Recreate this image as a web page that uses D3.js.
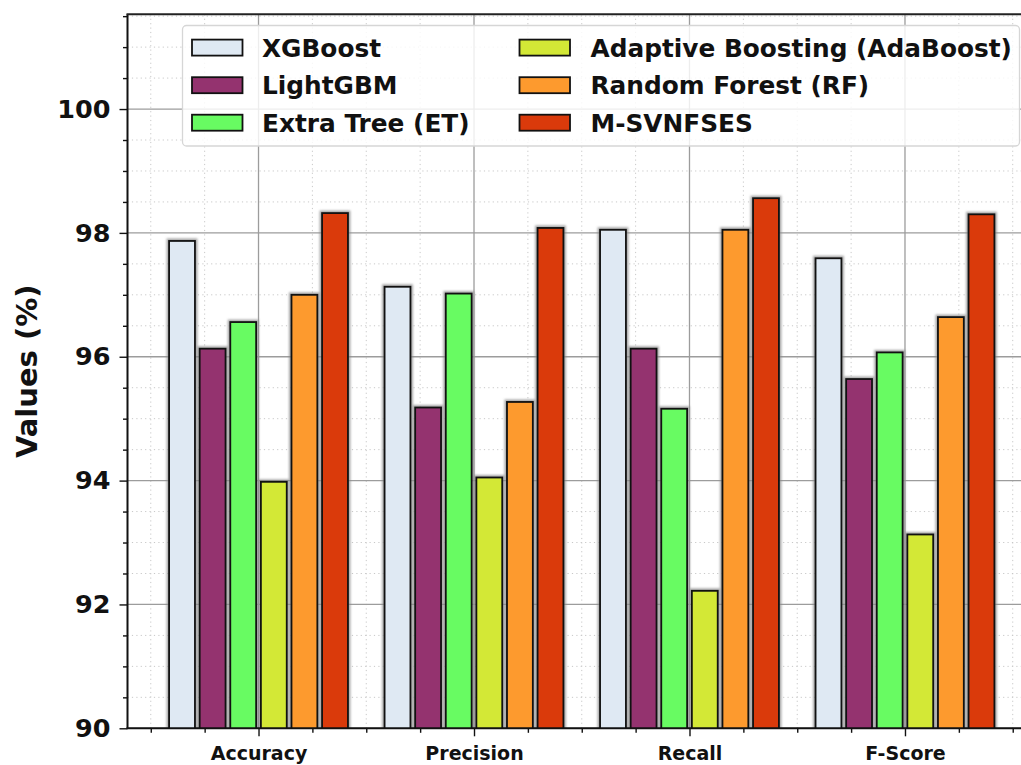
<!DOCTYPE html>
<html>
<head>
<meta charset="utf-8">
<script src="https://cdn.jsdelivr.net/npm/d3@7/dist/d3.min.js"></script>
<style>
  html, body { margin: 0; padding: 0; background: #fff; }
  svg { display: block; font-family: "DejaVu Sans", sans-serif; }
</style>
</head>
<body>
<svg id="chart" width="1021" height="765"></svg>
<script>
// Metrics shown along the x axis
const categories = ["Accuracy", "Precision", "Recall", "F-Score"];

// Model names (legend order) and their fill colours
const models = [
  "XGBoost",
  "LightGBM",
  "Extra Tree (ET)",
  "Adaptive Boosting (AdaBoost)",
  "Random Forest (RF)",
  "M-SVNFSES"
];
const colors = ["#dfe9f3", "#94336f", "#68fb62", "#d3e836", "#fd9a2e", "#da3a0b"];

// Scores (%) per metric, one array per model
const xgboost      = [97.87, 97.13, 98.05, 97.59];
const lightgbm     = [96.13, 95.18, 96.13, 95.64];
const extraTree    = [96.56, 97.02, 95.16, 96.07];
const adaBoost     = [93.98, 94.05, 92.22, 93.13];
const randomForest = [97.00, 95.27, 98.05, 96.64];
const msvnfses     = [98.32, 98.08, 98.56, 98.30];
const seriesValues = [xgboost, lightgbm, extraTree, adaBoost, randomForest, msvnfses];

// Axis ticks
const yTicks = [90, 92, 94, 96, 98, 100];
const yMinorTicks = [90.5, 91, 91.5, 92.5, 93, 93.5, 94.5, 95, 95.5, 96.5, 97, 97.5, 98.5, 99, 99.5, 100.5, 101, 101.5];
const yLabel = "Values (%)";

// Layout
const plotLeft = 127.5, plotTop = 14.3, plotBottom = 728.3, plotRight = 1036;
const svg = d3.select("#chart");

const x = d3.scaleLinear().domain([-0.608, 3.608]).range([plotLeft, plotRight]);
const y = d3.scaleLinear().domain([90, 101.53]).range([plotBottom, plotTop]);

const barPitch = 0.142, barWidth = 0.12;
const xMinor = d3.range(-0.5, 3.6, 0.25).filter(v => Math.abs(v - Math.round(v)) > 1e-9);
const xMajor = categories.map((c, i) => i);

const defs = svg.append("defs");
defs.append("filter").attr("id", "halo").attr("x", "-20%").attr("y", "-5%").attr("width", "140%").attr("height", "110%")
  .append("feGaussianBlur").attr("stdDeviation", 1.2);
defs.append("clipPath").attr("id", "plotClip")
  .append("rect").attr("x", plotLeft).attr("y", plotTop).attr("width", plotRight - plotLeft).attr("height", plotBottom - plotTop);

const grid = svg.append("g").attr("clip-path", "url(#plotClip)");

// Minor grid (dotted)
grid.selectAll(".ymin").data(yMinorTicks).join("line")
  .attr("x1", plotLeft).attr("x2", plotRight)
  .attr("y1", d => y(d)).attr("y2", d => y(d))
  .attr("stroke", "#c8c8c8").attr("stroke-width", 1).attr("stroke-dasharray", "1.2,3.2");
grid.selectAll(".xmin").data(xMinor).join("line")
  .attr("x1", d => x(d)).attr("x2", d => x(d))
  .attr("y1", plotTop).attr("y2", plotBottom)
  .attr("stroke", "#c8c8c8").attr("stroke-width", 1).attr("stroke-dasharray", "1.2,3.2");

// Major grid (solid)
grid.selectAll(".ymaj").data(yTicks).join("line")
  .attr("x1", plotLeft).attr("x2", plotRight)
  .attr("y1", d => y(d)).attr("y2", d => y(d))
  .attr("stroke", "#9c9c9c").attr("stroke-width", 1.3);
grid.selectAll(".xmaj").data(xMajor).join("line")
  .attr("x1", d => x(d)).attr("x2", d => x(d))
  .attr("y1", plotTop).attr("y2", plotBottom)
  .attr("stroke", "#9c9c9c").attr("stroke-width", 1.3);

// Bars
const barData = [];
seriesValues.forEach((vals, m) => {
  vals.forEach((v, c) => {
    barData.push({ m, c, v, cx: c + (m - 2.5) * barPitch });
  });
});

const bars = svg.append("g").attr("clip-path", "url(#plotClip)");
bars.selectAll(".halo").data(barData).join("rect")
  .attr("x", d => x(d.cx - barWidth / 2))
  .attr("y", d => y(d.v))
  .attr("width", d => x(d.cx + barWidth / 2) - x(d.cx - barWidth / 2))
  .attr("height", d => y(90) - y(d.v) + 4)
  .attr("fill", "none")
  .attr("stroke", "#8a8a8a").attr("stroke-opacity", 0.75).attr("stroke-width", 5)
  .attr("filter", "url(#halo)");
bars.selectAll(".bar").data(barData).join("rect")
  .attr("x", d => x(d.cx - barWidth / 2))
  .attr("y", d => y(d.v))
  .attr("width", d => x(d.cx + barWidth / 2) - x(d.cx - barWidth / 2))
  .attr("height", d => y(90) - y(d.v) + 3)
  .attr("fill", d => colors[d.m])
  .attr("stroke", "#111").attr("stroke-width", 1.8);

// Axes
const yAxis = svg.append("g").attr("transform", `translate(${plotLeft},0)`)
  .call(d3.axisLeft(y).tickValues(yTicks).tickFormat(d3.format("d")).tickSize(8).tickPadding(9));
const yAxisMinor = svg.append("g").attr("transform", `translate(${plotLeft},0)`)
  .call(d3.axisLeft(y).tickValues(yMinorTicks).tickFormat("").tickSize(4.5));
const xAxis = svg.append("g").attr("transform", `translate(0,${plotBottom})`)
  .call(d3.axisBottom(x).tickValues(xMajor).tickFormat(i => categories[i]).tickSize(8).tickPadding(10));
const xAxisMinor = svg.append("g").attr("transform", `translate(0,${plotBottom})`)
  .call(d3.axisBottom(x).tickValues(xMinor).tickFormat("").tickSize(4.5));

[yAxis, yAxisMinor, xAxis, xAxisMinor].forEach(g => {
  g.select(".domain").remove();
  g.selectAll(".tick line").attr("stroke", "#111").attr("stroke-width", 1.4);
});
yAxis.selectAll(".tick text")
  .attr("font-family", "DejaVu Sans").attr("font-weight", "bold").attr("font-size", 25.5).attr("fill", "#111");
xAxis.selectAll(".tick text")
  .attr("font-family", "DejaVu Sans").attr("font-weight", "bold").attr("font-size", 19).attr("fill", "#111");

// Spines
svg.append("line").attr("x1", plotLeft).attr("x2", plotLeft).attr("y1", plotTop).attr("y2", plotBottom)
  .attr("stroke", "#111").attr("stroke-width", 2);
svg.append("line").attr("x1", plotLeft - 1).attr("x2", plotRight).attr("y1", plotBottom).attr("y2", plotBottom)
  .attr("stroke", "#111").attr("stroke-width", 2);
svg.append("line").attr("x1", plotLeft - 1).attr("x2", plotRight).attr("y1", plotTop).attr("y2", plotTop)
  .attr("stroke", "#222").attr("stroke-width", 2);

// Y axis title
svg.append("text")
  .attr("transform", `translate(37,${(plotTop + plotBottom) / 2}) rotate(-90)`)
  .attr("text-anchor", "middle")
  .attr("font-family", "DejaVu Sans").attr("font-weight", "bold").attr("font-size", 29).attr("fill", "#111")
  .text(yLabel);

// Legend (two columns of three)
const legend = svg.append("g");
legend.append("rect")
  .attr("x", 182.5).attr("y", 25.5).attr("width", 837).attr("height", 120.5)
  .attr("rx", 4).attr("ry", 4)
  .attr("fill", "#fff").attr("fill-opacity", 0.82)
  .attr("stroke", "#d6d6d6").attr("stroke-width", 1.3);

const colX = [{ sw: 192, tx: 262 }, { sw: 519.5, tx: 590.5 }];
const rowY = [47.6, 85.2, 122.7];
const items = legend.selectAll(".item").data(models).join("g")
  .attr("transform", (d, i) => `translate(0,${rowY[i % 3]})`);
items.append("rect")
  .attr("x", (d, i) => colX[Math.floor(i / 3)].sw)
  .attr("y", -8).attr("width", 50.5).attr("height", 16)
  .attr("fill", (d, i) => colors[i])
  .attr("stroke", "#111").attr("stroke-width", 1.8);
items.append("text")
  .attr("x", (d, i) => colX[Math.floor(i / 3)].tx)
  .attr("y", 9)
  .attr("font-family", "DejaVu Sans").attr("font-weight", "bold").attr("font-size", 24.8).attr("fill", "#111")
  .text(d => d);
</script>
</body>
</html>
